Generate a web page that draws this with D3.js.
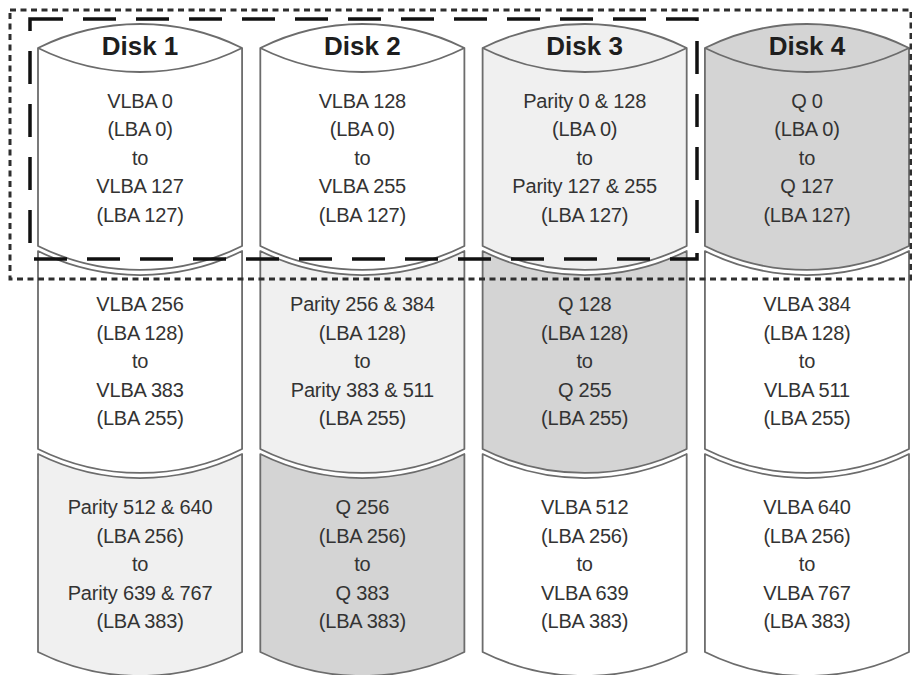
<!DOCTYPE html>
<html>
<head>
<meta charset="utf-8">
<script src="https://cdn.jsdelivr.net/npm/d3@7/dist/d3.min.js"></script>
<style>
  html, body { margin: 0; padding: 0; background: #ffffff; }
  svg { display: block; }
</style>
</head>
<body>
<svg id="chart" width="912" height="675"></svg>
<script>
// ---- data ----
const disks = ["Disk 1", "Disk 2", "Disk 3", "Disk 4"];
const rows = [0, 1, 2];
const startLabels = [
  ["VLBA 0", "VLBA 128", "Parity 0 & 128", "Q 0"],
  ["VLBA 256", "Parity 256 & 384", "Q 128", "VLBA 384"],
  ["Parity 512 & 640", "Q 256", "VLBA 512", "VLBA 640"]
];
const endLabels = [
  ["VLBA 127", "VLBA 255", "Parity 127 & 255", "Q 127"],
  ["VLBA 383", "Parity 383 & 511", "Q 255", "VLBA 511"],
  ["Parity 639 & 767", "Q 383", "VLBA 639", "VLBA 767"]
];
const lbaStart = [0, 128, 256];
const lbaEnd = [127, 255, 383];
const blockTypes = [
  ["data", "data", "parity", "q"],
  ["data", "parity", "q", "data"],
  ["parity", "q", "data", "data"]
];
const joinWord = "to";

// ---- layout ----
const svg = d3.select("#chart");
const x = d3.scaleBand().domain(disks).range([38, 909]).paddingInner(0.082).paddingOuter(0);
const y = d3.scaleBand().domain(rows).range([48, 652]).paddingInner(0.025).paddingOuter(0);
const fill = d3.scaleOrdinal().domain(["data", "parity", "q"]).range(["#ffffff", "#f0f0f0", "#d4d4d4"]);

const w = x.bandwidth();
const sag = 24;
const R = ((w / 2) * (w / 2) + sag * sag) / (2 * sag);

const cells = [];
rows.forEach(r => disks.forEach((d, i) => cells.push({ r, d, i })));

function segPath(c) {
  const x0 = x(c.d), x1 = x0 + w;
  const yT = y(c.r), yB = yT + y.bandwidth();
  const topSweep = c.r === 0 ? 1 : 0;
  return `M${x0},${yT} A${R},${R} 0 0 ${topSweep} ${x1},${yT} L${x1},${yB} A${R},${R} 0 0 1 ${x0},${yB} Z`;
}

const g = svg.append("g");
g.selectAll("path.seg").data(cells).join("path")
  .attr("class", "seg")
  .attr("d", segPath)
  .attr("fill", c => fill(blockTypes[c.r][c.i]))
  .attr("stroke", "#6c6c6c")
  .attr("stroke-width", 1.8)
  .attr("stroke-linejoin", "round");

// inner cap arcs for the top row
g.selectAll("path.cap").data(disks).join("path")
  .attr("class", "cap")
  .attr("d", d => {
    const x0 = x(d), x1 = x0 + w, yT = y(0);
    return `M${x0},${yT} A${R},${R} 0 0 0 ${x1},${yT}`;
  })
  .attr("fill", "none")
  .attr("stroke", "#6c6c6c")
  .attr("stroke-width", 1.8);

// disk titles
g.selectAll("text.title").data(disks).join("text")
  .attr("class", "title")
  .attr("x", d => x(d) + w / 2)
  .attr("y", y(0) - 2)
  .attr("text-anchor", "middle")
  .attr("dominant-baseline", "central")
  .attr("font-family", "'Liberation Sans', Arial, sans-serif")
  .attr("font-weight", "bold")
  .attr("font-size", 26)
  .attr("fill", "#1e1e1e")
  .text(d => d);

// block texts
const lineGap = 28.5;
cells.forEach(c => {
  const cx = x(c.d) + w / 2;
  const cy = y(c.r) + y.bandwidth() / 2 + 11;
  const lines = [
    startLabels[c.r][c.i],
    `(LBA ${lbaStart[c.r]})`,
    joinWord,
    endLabels[c.r][c.i],
    `(LBA ${lbaEnd[c.r]})`
  ];
  g.append("text")
    .attr("x", cx)
    .attr("text-anchor", "middle")
    .attr("font-family", "'Liberation Sans', Arial, sans-serif")
    .attr("font-size", 20)
    .attr("letter-spacing", -0.2)
    .attr("fill", "#333333")
    .selectAll("tspan").data(lines).join("tspan")
    .attr("x", cx)
    .attr("y", (l, k) => cy + (k - 2) * lineGap)
    .attr("dominant-baseline", "central")
    .text(l => l);
});

// dotted outer rectangle (one full stripe)
svg.append("rect")
  .attr("x", 10).attr("y", 10)
  .attr("width", 901).attr("height", 269)
  .attr("fill", "none")
  .attr("stroke", "#2e2e2e")
  .attr("stroke-width", 3)
  .attr("stroke-dasharray", "6,4.5");

// dashed inner rectangle (one strip)
svg.append("rect")
  .attr("x", 30).attr("y", 19)
  .attr("width", 667).attr("height", 240)
  .attr("fill", "none")
  .attr("stroke", "#111111")
  .attr("stroke-width", 3.5)
  .attr("stroke-dasharray", "33,20");
</script>
</body>
</html>
